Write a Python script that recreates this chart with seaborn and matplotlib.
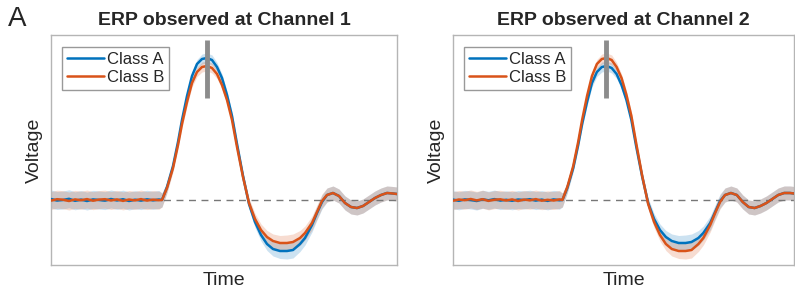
import pandas as pd
import seaborn as sns
import matplotlib.pyplot as plt

# time in samples (axis spans 0..346)
time = [0, 6, 12, 18, 24, 30, 36, 42, 48, 54, 60, 66, 72, 78, 84, 90, 96, 102, 108,
        111, 116, 122, 127, 131, 136, 141, 146, 151, 156, 161, 166, 171, 176, 181, 186, 192, 198,
        204, 210, 216, 222, 229, 236, 242, 249, 254, 261, 266, 271, 276, 282, 288, 294, 300, 306,
        312, 318, 324, 330, 336, 342, 346]

ch1_class_a = [0.010, -0.005, 0.000, 0.012, -0.008, 0.004, -0.010, 0.006, 0.000, -0.006,
               0.010, -0.004, 0.008, -0.010, 0.003, -0.006, 0.007, -0.003, 0.005,
               0.00, 0.13, 0.34, 0.58, 0.80, 1.04, 1.24, 1.36, 1.41, 1.42, 1.40, 1.33, 1.22,
               1.05, 0.84, 0.56, 0.24, -0.04,
               -0.22, -0.35, -0.44, -0.49, -0.51, -0.51, -0.50, -0.44, -0.38, -0.25, -0.13,
               -0.02, 0.05, 0.07, 0.04, -0.03, -0.07, -0.08,
               -0.06, -0.02, 0.02, 0.05, 0.07, 0.065, 0.06]
ch1_class_b = [-0.006, 0.008, 0.003, -0.010, 0.006, -0.002, 0.009, -0.007, 0.004, 0.008,
               -0.005, 0.006, -0.009, 0.005, -0.004, 0.009, -0.006, 0.004, -0.002,
               0.00, 0.12, 0.32, 0.55, 0.76, 0.98, 1.17, 1.28, 1.33, 1.34, 1.32, 1.26, 1.15,
               1.00, 0.80, 0.53, 0.23, -0.03,
               -0.19, -0.30, -0.37, -0.41, -0.43, -0.43, -0.42, -0.38, -0.33, -0.23, -0.12,
               -0.01, 0.05, 0.07, 0.04, -0.03, -0.07, -0.08,
               -0.06, -0.02, 0.02, 0.05, 0.07, 0.065, 0.06]
ch2_class_a = [0.004, -0.008, 0.006, 0.000, -0.010, 0.007, -0.003, 0.009, -0.006, 0.002,
               -0.008, 0.005, 0.000, 0.008, -0.006, 0.004, -0.009, 0.006, -0.002,
               0.00, 0.12, 0.32, 0.55, 0.76, 0.98, 1.17, 1.28, 1.33, 1.34, 1.32, 1.26, 1.15,
               1.00, 0.80, 0.53, 0.23, -0.03,
               -0.19, -0.30, -0.37, -0.41, -0.43, -0.43, -0.42, -0.38, -0.33, -0.23, -0.12,
               -0.01, 0.05, 0.07, 0.05, -0.02, -0.07, -0.08,
               -0.06, -0.03, 0.01, 0.05, 0.07, 0.07, 0.065]
ch2_class_b = [-0.007, 0.005, -0.002, 0.010, -0.004, 0.008, -0.009, 0.003, 0.007, -0.005,
               0.006, -0.010, 0.004, -0.003, 0.009, -0.007, 0.002, -0.005, 0.006,
               0.00, 0.13, 0.34, 0.58, 0.80, 1.04, 1.24, 1.36, 1.41, 1.42, 1.40, 1.33, 1.22,
               1.05, 0.84, 0.56, 0.24, -0.04,
               -0.22, -0.35, -0.44, -0.49, -0.51, -0.51, -0.50, -0.44, -0.38, -0.25, -0.13,
               -0.02, 0.05, 0.07, 0.05, -0.02, -0.07, -0.08,
               -0.06, -0.03, 0.01, 0.05, 0.07, 0.07, 0.065]
# half width of the shaded band
sem = [0.09, 0.09, 0.09, 0.09, 0.09, 0.09, 0.09, 0.09, 0.09, 0.09,
       0.09, 0.09, 0.09, 0.09, 0.09, 0.09, 0.09, 0.09, 0.09,
       0.07, 0.05, 0.04, 0.04, 0.04, 0.04, 0.04, 0.045, 0.05, 0.05, 0.05, 0.045, 0.04,
       0.04, 0.04, 0.04, 0.045, 0.05,
       0.055, 0.06, 0.065, 0.07, 0.075, 0.08, 0.08, 0.075, 0.07, 0.07, 0.07,
       0.07, 0.07, 0.07, 0.07, 0.07, 0.07, 0.07,
       0.07, 0.07, 0.07, 0.07, 0.07, 0.07, 0.07]

channels = ['ERP observed at Channel 1', 'ERP observed at Channel 2']
classes = ['Class A', 'Class B']
peak_time = [156, 155]
colors = {'Class A': '#0072BD', 'Class B': '#D95319'}

sns.set_theme(style='white')
plt.rcParams['font.family'] = ['Liberation Sans', 'DejaVu Sans']

fig = plt.figure(figsize=(7.95, 2.96), dpi=100)
ax1 = fig.add_axes([51 / 795, 31 / 296, 346 / 795, 230 / 296])
ax2 = fig.add_axes([453 / 795, 31 / 296, 341 / 795, 230 / 296])

series = [(ch1_class_a, ch1_class_b), (ch2_class_a, ch2_class_b)]
for ax, title, (va, vb), pk in zip([ax1, ax2], channels, series, peak_time):
    df = pd.DataFrame({'time': time * 2,
                       'voltage': va + vb,
                       'cls': [classes[0]] * len(time) + [classes[1]] * len(time)})
    for name, vals in zip(classes, (va, vb)):
        lo = [v - e for v, e in zip(vals, sem)]
        hi = [v + e for v, e in zip(vals, sem)]
        ax.fill_between(time, lo, hi, color=colors[name], alpha=0.2, lw=0)
    ax.axhline(0, color='#777777', lw=1, ls=(0, (5, 4)), zorder=1)
    sns.lineplot(data=df, x='time', y='voltage', hue='cls', palette=colors,
                 linewidth=1.8, sort=False, errorbar=None, ax=ax, zorder=3)
    ax.plot([pk, pk], [1.02, 1.60], color='#8c8c8c', lw=3.5, solid_capstyle='butt', zorder=5)
    ax.set_xlim(0, 346)
    ax.set_ylim(-0.65, 1.65)
    ax.set_xticks([])
    ax.set_yticks([])
    ax.set_xlabel('Time', fontsize=14, labelpad=5)
    ax.set_ylabel('Voltage', fontsize=14, labelpad=6)
    ax.set_title(title, fontsize=14, fontweight='bold', pad=7)
    for s in ax.spines.values():
        s.set_color('#b5b5b5')
        s.set_linewidth(1)
    handles, labels = ax.get_legend_handles_labels()
    leg = ax.legend(handles, labels, loc='upper left', bbox_to_anchor=(11 / 346, 1 - 12 / 230),
                    borderaxespad=0, fontsize=12, frameon=True, fancybox=False, framealpha=1,
                    handlelength=2.2, handletextpad=0.2, labelspacing=0.15, borderpad=0.3)
    leg.get_frame().set_edgecolor('#999999')
    leg.get_frame().set_linewidth(1)

fig.text(8 / 795, 1 - 6 / 296, 'A', fontsize=20, va='top', ha='left')

plt.savefig('out.png', dpi=100)
